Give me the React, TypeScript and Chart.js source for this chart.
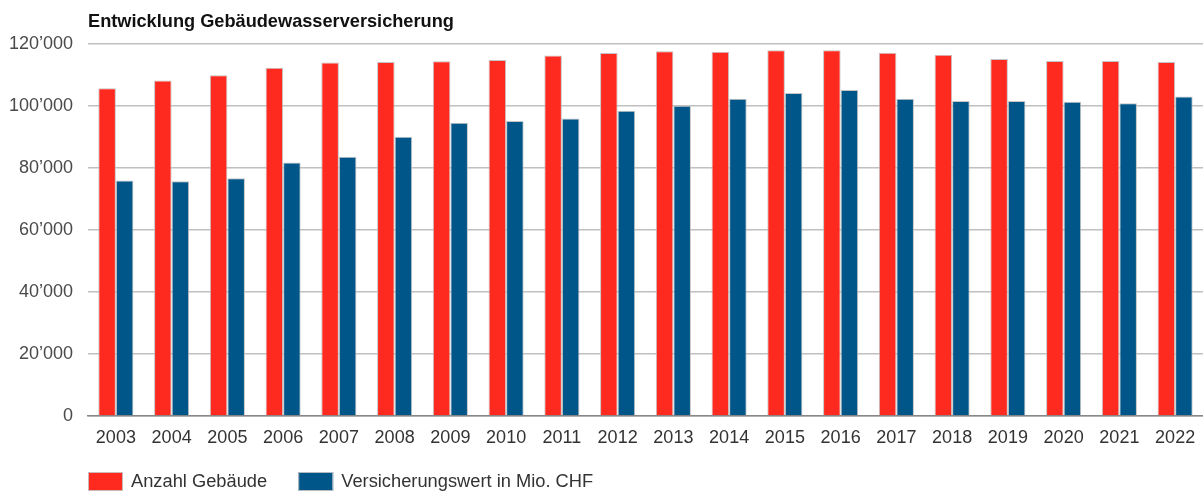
import React, { useEffect, useRef } from "react";
import { Chart, registerables } from "chart.js";

Chart.register(...registerables);

const title = "Entwicklung Gebäudewasserversicherung";
const years = ["2003","2004","2005","2006","2007","2008","2009","2010","2011","2012","2013","2014","2015","2016","2017","2018","2019","2020","2021","2022"];
const anzahlGebaeude = [105700,108200,109900,112300,114000,114200,114400,114800,116300,117100,117700,117500,118000,118000,117200,116500,115200,114500,114500,114200];
const versicherungswert = [76000,75700,76700,81800,83600,90100,94600,95200,96000,98500,100100,102300,104200,105200,102300,101600,101600,101400,100900,103100];
const seriesNames = ["Anzahl Gebäude", "Versicherungswert in Mio. CHF"];
const seriesColors = ["#ff2a1f", "#005688"];
const yTicks = [0, 20000, 40000, 60000, 80000, 100000, 120000];

const FONT = "'Liberation Sans', Arial, sans-serif";

const fmt = (v: number) => {
  if (v === 0) return "0";
  const s = String(Math.round(v));
  return s.replace(/\B(?=(\d{3})+(?!\d))/g, "’");
};

const overlayPlugin = {
  id: "overlay",
  afterDraw(chart: any) {
    const ctx = chart.ctx as CanvasRenderingContext2D;
    const area = chart.chartArea;
    ctx.save();
    ctx.fillStyle = "#111";
    ctx.font = `bold 18.2px ${FONT}`;
    ctx.textBaseline = "middle";
    ctx.textAlign = "left";
    ctx.fillText(title, area.left, 22);
    // legend
    ctx.font = `18.3px ${FONT}`;
    let x = area.left;
    const y = 481;
    seriesNames.forEach((name, i) => {
      ctx.fillStyle = seriesColors[i];
      ctx.fillRect(x, y - 9, 35, 19);
      ctx.strokeStyle = "rgba(200,200,200,0.9)";
      ctx.lineWidth = 1;
      ctx.strokeRect(x + 0.5, y - 8.5, 34, 18);
      ctx.fillStyle = "#333";
      ctx.fillText(name, x + 43, y + 1);
      x += 43 + ctx.measureText(name).width + 31;
    });
    ctx.restore();
  },
};

export default function App() {
  const ref = useRef<HTMLCanvasElement | null>(null);
  useEffect(() => {
    document.body.style.margin = "0";
    const canvas = ref.current!;
    const chart = new Chart(canvas, {
      type: "bar",
      data: {
        labels: years,
        datasets: [
          {
            label: seriesNames[0],
            data: anzahlGebaeude,
            backgroundColor: seriesColors[0],
            borderColor: "rgba(190,190,190,0.9)",
            borderWidth: 1,
            categoryPercentage: 0.63,
            barPercentage: 1,
          },
          {
            label: seriesNames[1],
            data: versicherungswert,
            backgroundColor: seriesColors[1],
            borderColor: "rgba(190,190,190,0.9)",
            borderWidth: 1,
            categoryPercentage: 0.63,
            barPercentage: 1,
          },
        ],
      },
      options: {
        responsive: false,
        animation: false,
        devicePixelRatio: 1,
        layout: { padding: { top: 44, bottom: 44, left: 0, right: 0 } },
        plugins: {
          legend: { display: false },
          title: { display: false },
          tooltip: { enabled: false },
        },
        scales: {
          x: {
            grid: { display: false },
            border: { color: "#888", width: 1.5 },
            ticks: { color: "#333", font: { family: FONT, size: 18 }, padding: 3, maxRotation: 0, autoSkip: false },
            afterFit: (s: any) => { s.height = 32; },
          },
          y: {
            min: 0,
            max: 120000,
            afterBuildTicks: (s: any) => { s.ticks = yTicks.map((v) => ({ value: v })); },
            grid: { color: "#c0c0c0", lineWidth: 1.5, drawTicks: false },
            border: { display: false },
            ticks: { color: "#4a4a4a", font: { family: FONT, size: 18 }, padding: 15, callback: (v: any) => fmt(Number(v)) },
            afterFit: (s: any) => { s.width = 88; },
          },
        },
      },
      plugins: [overlayPlugin],
    });
    return () => chart.destroy();
  }, []);
  return <canvas ref={ref} width={1203} height={492} style={{ display: "block" }} />;
}
